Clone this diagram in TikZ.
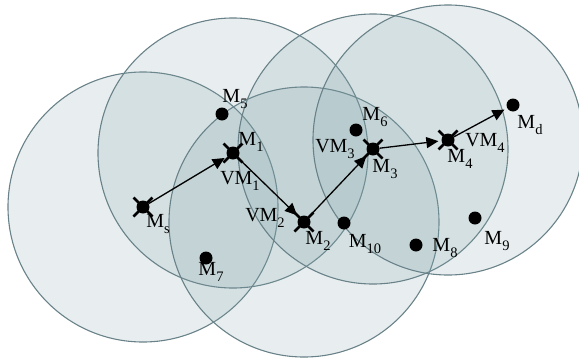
\documentclass[tikz,border=0pt]{standalone}
\usepackage{fontspec}
\setmainfont{Liberation Serif}
\usetikzlibrary{arrows.meta}
\definecolor{edgecol}{RGB}{105,130,137}
\definecolor{fillcol}{RGB}{125,160,165}
\newcommand\msub[2]{#1\raisebox{-0.3em}{\fontsize{14.5}{14.5}\selectfont #2}}
\begin{document}
\begin{tikzpicture}[x=1pt,y=-1pt,
  zone/.style={draw=edgecol, line width=1.1pt, fill=fillcol, fill opacity=0.18},
  dot/.style={circle, fill=black, inner sep=0pt, minimum size=13pt},
  lbl/.style={font=\fontsize{20}{20}\selectfont, inner sep=0pt},
  link/.style={-{Triangle[length=12pt,width=11pt]}, line width=1.3pt, shorten >=3pt},
  xmark/.style={line width=2.8pt}]
\useasboundingbox (0,0) rectangle (579,362);
% hop nodes
\coordinate (cMs) at (143,207);
\coordinate (cM1) at (233,153);
\coordinate (cM2) at (304,222);
\coordinate (cM3) at (373,149);
\coordinate (cM4) at (448,140);
% coverage zones
\foreach \c in {cMs,cM1,cM2,cM3,cM4}
  \path[zone] (\c) circle[radius=135pt];
% nodes
\node[dot] (Ms) at (cMs) {};
\node[dot] (M1) at (cM1) {};
\node[dot] (M2) at (cM2) {};
\node[dot] (M3) at (cM3) {};
\node[dot] (M4) at (cM4) {};
\node[dot] (M5) at (222,114) {};
\node[dot] (M6) at (356,130) {};
\node[dot] (M7) at (206,258) {};
\node[dot] (M8) at (416,245) {};
\node[dot] (M9) at (475,218) {};
\node[dot] (M10) at (344,223) {};
\node[dot] (Md) at (513,105) {};
% links
\draw[link] (Ms) -- (M1);
\draw[link] (M1) -- (M2);
\draw[link] (M2) -- (M3);
\draw[link] (M3) -- (M4);
\draw[link] (M4) -- (Md);
% crosses
\foreach \n in {Ms,M1,M2,M3,M4}
  \draw[xmark] (\n.center) +(-9.5,-9.5) -- +(9.5,9.5)
               (\n.center) +(-9.5,9.5) -- +(9.5,-9.5);
% labels
\node[lbl] (tMs) at (158,224) {\msub{M}{s}};
\node[lbl] (tM1) at (251,142) {\msub{M}{1}};
\node[lbl] (tVM1) at (240,181) {\msub{VM}{1}};
\node[lbl] (tM5) at (235,99) {\msub{M}{5}};
\node[lbl] (tVM2) at (265,218) {\msub{VM}{2}};
\node[lbl] (tM2) at (318,241) {\msub{M}{2}};
\node[lbl] (tM10) at (365,244) {\msub{M}{10}};
\node[lbl] (tM7) at (211,272) {\msub{M}{7}};
\node[lbl] (tM6) at (375,117) {\msub{M}{6}};
\node[lbl] (tVM3) at (335,149) {\msub{VM}{3}};
\node[lbl] (tM3) at (385,169) {\msub{M}{3}};
\node[lbl] (tM4) at (460,159) {\msub{M}{4}};
\node[lbl] (tVM4) at (485,143) {\msub{VM}{4}};
\node[lbl] (tMd) at (530,125) {\msub{M}{d}};
\node[lbl] (tM8) at (445,248) {\msub{M}{8}};
\node[lbl] (tM9) at (497,241) {\msub{M}{9}};
\end{tikzpicture}
\end{document}
